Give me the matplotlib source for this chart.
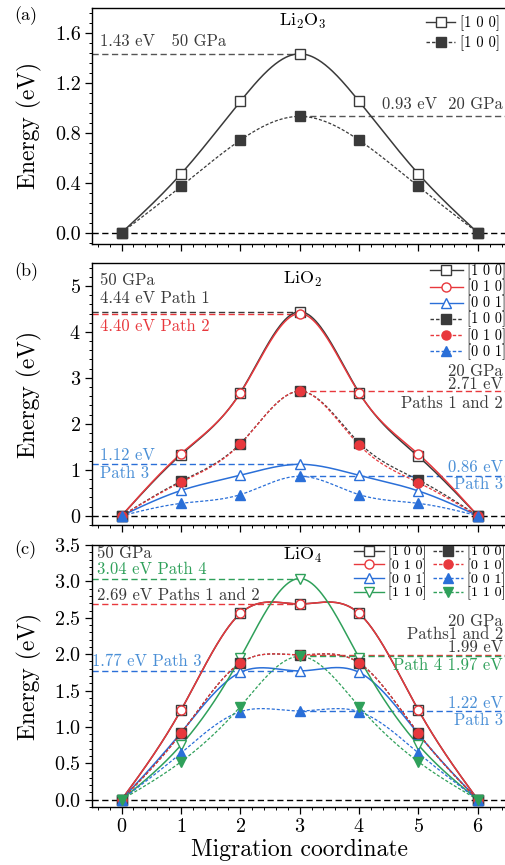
import numpy as np
import matplotlib
matplotlib.use("Agg")
import matplotlib.pyplot as plt
from matplotlib.ticker import MultipleLocator, AutoMinorLocator

plt.rcParams['font.family'] = ['cmr10', 'DejaVu Serif']
plt.rcParams['mathtext.fontset'] = 'cm'
plt.rcParams['axes.formatter.use_mathtext'] = True

# 数据
coord = [0, 1, 2, 3, 4, 5, 6]

# (a) Li2O3
a_50_100 = [0, 0.47, 1.05, 1.43, 1.05, 0.47, 0]
a_20_100 = [0, 0.37, 0.74, 0.93, 0.74, 0.37, 0]

# (b) LiO2
b_50_100 = [0, 1.33, 2.68, 4.44, 2.68, 1.29, 0]
b_50_010 = [0, 1.35, 2.67, 4.40, 2.67, 1.34, 0]
b_50_001 = [0, 0.55, 0.88, 1.12, 0.88, 0.54, 0]
b_20_100 = [0, 0.75, 1.57, 2.71, 1.59, 0.78, 0]
b_20_010 = [0, 0.73, 1.56, 2.71, 1.54, 0.72, 0]
b_20_001 = [0, 0.27, 0.46, 0.86, 0.46, 0.27, 0]

# (c) LiO4
c_50_100 = [0, 1.23, 2.56, 2.69, 2.56, 1.23, 0]
c_50_010 = [0, 1.23, 2.56, 2.69, 2.56, 1.23, 0]
c_50_001 = [0, 0.92, 1.75, 1.77, 1.75, 0.90, 0]
c_50_110 = [0, 0.75, 1.95, 3.04, 1.95, 0.75, 0]
c_20_100 = [0, 0.91, 1.88, 1.99, 1.88, 0.91, 0]
c_20_010 = [0, 0.91, 1.88, 1.99, 1.88, 0.91, 0]
c_20_001 = [0, 0.64, 1.21, 1.22, 1.21, 0.64, 0]
c_20_110 = [0, 0.52, 1.28, 1.97, 1.28, 0.52, 0]

K = '#3a3a3a'
R = '#e8383d'
B = '#2a6fd8'
BT = '#4a8fd6'
G = '#2fa05a'

FS = 12      # 标注字号
TS = 14.5    # 刻度字号
LS = 17      # 轴标题字号


def spline(x, y, n=300):
    # 自然三次样条, 只用来画平滑的连线
    x = np.asarray(x, float)
    y = np.asarray(y, float)
    m = len(x)
    h = np.diff(x)
    A = np.zeros((m, m))
    r = np.zeros(m)
    A[0, 0] = A[-1, -1] = 1
    for i in range(1, m - 1):
        A[i, i - 1] = h[i - 1]
        A[i, i] = 2 * (h[i - 1] + h[i])
        A[i, i + 1] = h[i]
        r[i] = 6 * ((y[i + 1] - y[i]) / h[i] - (y[i] - y[i - 1]) / h[i - 1])
    M = np.linalg.solve(A, r)
    xs = np.linspace(x[0], x[-1], n)
    idx = np.clip(np.searchsorted(x, xs) - 1, 0, m - 2)
    x0, x1 = x[idx], x[idx + 1]
    hh = x1 - x0
    t0 = x1 - xs
    t1 = xs - x0
    ys = (M[idx] * t0**3 + M[idx + 1] * t1**3) / (6 * hh) \
        + (y[idx] / hh - M[idx] * hh / 6) * t0 \
        + (y[idx + 1] / hh - M[idx + 1] * hh / 6) * t1
    return xs, ys


def curve(ax, y, color, marker, filled, label, lw=1.1):
    xs, ys = spline(coord, y)
    ls = '-' if not filled else (0, (2.5, 1.5))
    ax.plot(xs, ys, linestyle=ls, color=color, lw=lw if not filled else 0.9, zorder=2)
    ax.plot(coord, y, ls='none', marker=marker, ms=6.5,
            mfc=color if filled else 'white', mec=color, mew=1.0, zorder=3)
    # 图例用的句柄
    h, = ax.plot([], [], linestyle=ls, color=color, lw=1.0, marker=marker, ms=6.5,
                 mfc=color if filled else 'white', mec=color, mew=1.0, label=label)
    return h


def hline(ax, y, x0, x1, color):
    ax.plot([x0, x1], [y, y], color=color, lw=1.0, ls=(0, (4.5, 2.5)), zorder=1)


def style(ax, ymin, ymax, major, show_x=False):
    ax.set_xlim(-0.5, 6.5)
    ax.set_ylim(ymin, ymax)
    ax.xaxis.set_major_locator(MultipleLocator(1))
    ax.xaxis.set_minor_locator(MultipleLocator(0.2))
    ax.yaxis.set_major_locator(MultipleLocator(major))
    ax.yaxis.set_minor_locator(AutoMinorLocator(5))
    ax.tick_params(which='major', direction='out', length=5, width=0.9, labelsize=TS, pad=3)
    ax.tick_params(which='minor', direction='out', length=2.5, width=0.7)
    ax.tick_params(axis='x', labelbottom=show_x)
    for s in ax.spines.values():
        s.set_linewidth(1.0)
    ax.set_ylabel('Energy (eV)', fontsize=LS)


fig = plt.figure(figsize=(5.05, 8.65), dpi=100)
L, W = 0.182, 0.823
ax1 = fig.add_axes([L, 0.7179, W, 0.2734])
ax2 = fig.add_axes([L, 0.3931, W, 0.3029])
ax3 = fig.add_axes([L, 0.0671, W, 0.3028])

# ---- (a)
style(ax1, -0.09, 1.8, 0.4)
ax1.yaxis.set_major_formatter(matplotlib.ticker.FormatStrFormatter('%.1f'))
hline(ax1, 0, -0.5, 6.5, 'black')
hline(ax1, 1.43, -0.5, 3, '#555555')
hline(ax1, 0.93, 3, 6.5, '#555555')
h1 = curve(ax1, a_50_100, K, 's', False, '[1 0 0]')
h2 = curve(ax1, a_20_100, K, 's', True, '[1 0 0]')
ax1.text(-0.37, 1.465, '1.43 eV   50 GPa', fontsize=FS, color=K, va='bottom')
ax1.text(6.42, 0.965, '0.93 eV  20 GPa', fontsize=FS, color=K, va='bottom', ha='right')
ax1.text(3.05, 1.69, r'Li$_2$O$_3$', fontsize=13, ha='center', va='center')
ax1.legend(handles=[h1, h2], loc='upper right', bbox_to_anchor=(0.995, 0.99),
           frameon=False, fontsize=10.5, handlelength=2.0, handletextpad=0.3,
           labelspacing=0.3, borderaxespad=0.2, borderpad=0.2)
fig.text(0.028, 0.982, '(a)', fontsize=13, va='center')

# ---- (b)
style(ax2, -0.2, 5.5, 1)
hline(ax2, 0, -0.5, 6.5, 'black')
hline(ax2, 4.44, -0.5, 3, K)
hline(ax2, 4.40, -0.5, 3, R)
hline(ax2, 2.71, 3, 6.5, R)
hline(ax2, 1.12, -0.5, 3, B)
hline(ax2, 0.86, 3, 6.5, B)
hb = [curve(ax2, b_50_100, K, 's', False, '[1 0 0]'),
      curve(ax2, b_50_010, R, 'o', False, '[0 1 0]'),
      curve(ax2, b_50_001, B, '^', False, '[0 0 1]'),
      curve(ax2, b_20_100, K, 's', True, '[1 0 0]'),
      curve(ax2, b_20_010, R, 'o', True, '[0 1 0]'),
      curve(ax2, b_20_001, B, '^', True, '[0 0 1]')]
ax2.text(-0.37, 4.92, '50 GPa\n4.44 eV Path 1', fontsize=FS, color=K, va='center',
         linespacing=1.2)
ax2.text(-0.37, 4.13, '4.40 eV Path 2', fontsize=FS, color=R, va='center')
ax2.text(3.05, 5.15, r'LiO$_2$', fontsize=13, ha='center', va='center')
ax2.text(6.42, 3.0, '20 GPa\n2.71 eV', fontsize=FS, color=K, ha='right', va='center',
         multialignment='right', linespacing=0.75)
ax2.text(6.42, 2.45, 'Paths 1 and 2', fontsize=FS, color=K, ha='right', va='center')
ax2.text(-0.37, 1.12, '1.12 eV\nPath 3', fontsize=FS, color=BT, va='center',
         linespacing=1.2)
ax2.text(6.42, 0.87, '0.86 eV\nPath 3', fontsize=FS, color=BT, ha='right', va='center',
         multialignment='right', linespacing=1.15)
ax2.legend(handles=hb, loc='upper right', bbox_to_anchor=(0.998, 1.0),
           frameon=False, fontsize=10.3, handlelength=2.3, handletextpad=0.3,
           labelspacing=0.03, borderaxespad=0.0, borderpad=0.05)
fig.text(0.028, 0.686, '(b)', fontsize=13, va='center')

# ---- (c)
style(ax3, -0.1, 3.5, 0.5, show_x=True)
hline(ax3, 0, -0.5, 6.5, 'black')
hline(ax3, 3.04, -0.5, 3, G)
hline(ax3, 2.69, -0.5, 3, R)
hline(ax3, 1.77, -0.5, 3, B)
hline(ax3, 1.99, 3, 6.5, R)
hline(ax3, 1.97, 3, 6.5, G)
hline(ax3, 1.22, 3, 6.5, B)
hc_open = [curve(ax3, c_50_100, K, 's', False, '[1 0 0]'),
           curve(ax3, c_50_010, R, 'o', False, '[0 1 0]'),
           curve(ax3, c_50_001, B, '^', False, '[0 0 1]'),
           curve(ax3, c_50_110, G, 'v', False, '[1 1 0]')]
hc_fill = [curve(ax3, c_20_100, K, 's', True, '[1 0 0]'),
           curve(ax3, c_20_010, R, 'o', True, '[0 1 0]'),
           curve(ax3, c_20_001, B, '^', True, '[0 0 1]'),
           curve(ax3, c_20_110, G, 'v', True, '[1 1 0]')]
ax3.text(-0.42, 3.38, '50 GPa', fontsize=FS, color=K, va='center')
ax3.text(-0.42, 3.16, '3.04 eV Path 4', fontsize=FS, color=G, va='center')
ax3.text(-0.42, 2.81, '2.69 eV Paths 1 and 2', fontsize=FS, color=K, va='center')
ax3.text(3.05, 3.36, r'LiO$_4$', fontsize=13, ha='center', va='center')
ax3.text(-0.5, 1.90, '1.77 eV Path 3', fontsize=FS, color=BT, va='center')
ax3.text(6.42, 2.27, '20 GPa\nPaths1 and 2\n1.99 eV', fontsize=FS, color=K,
         ha='right', va='center', multialignment='right', linespacing=0.8)
ax3.text(6.42, 1.85, 'Path 4 1.97 eV', fontsize=FS, color=G, ha='right', va='center')
ax3.text(6.42, 1.21, '1.22 eV\nPath 3', fontsize=FS, color=BT, ha='right', va='center',
         multialignment='right', linespacing=1.15)
ax3.legend(handles=hc_open + hc_fill, ncol=2, loc='upper right',
           bbox_to_anchor=(0.998, 1.0), frameon=False, fontsize=10.2,
           handlelength=2.1, handletextpad=0.3, labelspacing=0.0,
           columnspacing=0.5, borderaxespad=0.0, borderpad=0.05)
ax3.set_xlabel('Migration coordinate', fontsize=LS, labelpad=2)
fig.text(0.028, 0.365, '(c)', fontsize=13, va='center')

for ax in (ax1, ax2, ax3):
    ax.yaxis.set_label_coords(-0.12, 0.5)

fig.savefig('out.png', dpi=100)
